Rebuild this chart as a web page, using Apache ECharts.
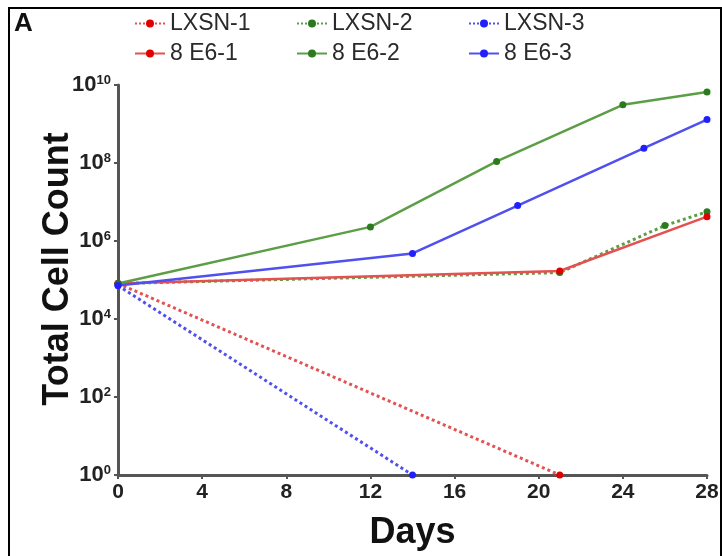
<!DOCTYPE html>
<html>
<head>
<meta charset="utf-8">
<script src="https://cdn.jsdelivr.net/npm/echarts@6/dist/echarts.min.js"></script>
<style>
  html, body { margin: 0; padding: 0; background: #fff; }
  #chart { width: 722px; height: 556px; }
</style>
</head>
<body>
<div id="chart"></div>
<script>
// days / total cell count
const lxsn1 = [[0, 8.1e4], [21, 1]];
const lxsn2 = [[0, 8.1e4], [21, 1.55e5], [26, 2.5e6], [28, 5.6e6]];
const lxsn3 = [[0, 7.2e4], [14, 1]];
const e6_1 = [[0, 8.1e4], [21, 1.7e5], [28, 4.2e6]];
const e6_2 = [[0, 8.1e4], [12, 2.3e6], [18, 1.1e8], [24, 3.1e9], [28, 6.6e9]];
const e6_3 = [[0, 7.2e4], [14, 4.8e5], [19, 8.1e6], [25, 2.4e8], [28, 1.3e9]];
const dayTicks = [0, 4, 8, 12, 16, 20, 24, 28];

const RED = "#e55050", RED_DOT = "#e00000";
const GREEN = "#5c9e46", GREEN_DOT = "#2b7a1c";
const BLUE = "#5050f0", BLUE_DOT = "#2020ff";

const myChart = echarts.init(document.getElementById("chart"));

function makeSeries(name, data, color, dotColor, dotted) {
  return {
    name: name,
    type: "line",
    data: data,
    symbol: "circle",
    symbolSize: 7,
    showSymbol: true,
    itemStyle: { color: dotColor },
    lineStyle: { color: color, width: dotted ? 3 : 2.5, type: dotted ? "dotted" : "solid" },
    z: dotted ? 2 : 3,
    animation: false,
  };
}

function legendAt(name, left, top) {
  return {
    data: [name],
    left: left,
    top: top,
    itemWidth: 30,
    itemHeight: 10,
    selectedMode: false,
    textStyle: { fontFamily: "Liberation Sans", fontSize: 23, color: "#2a2a2a" },
  };
}

const option = {
  backgroundColor: "#fff",
  legend: [
    legendAt("LXSN-1", 129, 7),
    legendAt("LXSN-2", 291, 7),
    legendAt("LXSN-3", 463, 7),
    legendAt("8 E6-1", 129, 37),
    legendAt("8 E6-2", 291, 37),
    legendAt("8 E6-3", 463, 37),
  ],
  graphic: [
    {
      type: "rect",
      shape: { x: 9, y: 8, width: 712, height: 560 },
      style: { fill: "none", stroke: "#000", lineWidth: 2 },
    },
    {
      type: "text",
      left: 14,
      top: 11,
      style: { text: "A", font: "bold 26px Liberation Sans", fill: "#111" },
    },
  ],
  grid: { left: 118, right: 15, top: 85, bottom: 80 },
  xAxis: {
    type: "value",
    min: 0,
    max: 28,
    interval: 4,
    name: "Days",
    nameLocation: "middle",
    nameGap: 40,
    nameMoveOverlap: false,
    nameTextStyle: { fontFamily: "Liberation Sans", fontSize: 36, fontWeight: "bold", color: "#111" },
    axisLine: { lineStyle: { color: "#555", width: 3 } },
    axisTick: { length: 4, lineStyle: { color: "#555", width: 2 } },
    axisLabel: {
      fontFamily: "Liberation Sans",
      fontSize: 21,
      fontWeight: "bold",
      color: "#222",
      margin: 7,
      customValues: dayTicks,
    },
    splitLine: { show: false },
  },
  yAxis: {
    type: "log",
    logBase: 10,
    min: 1,
    max: 1e10,
    interval: 2,
    name: "Total Cell Count",
    nameLocation: "middle",
    nameGap: 42,
    nameMoveOverlap: false,
    nameTextStyle: {
      fontFamily: "Liberation Sans",
      fontSize: 36,
      fontWeight: "bold",
      color: "#111",
      padding: [0, 0, 0, 22],
    },
    axisLine: { show: true, lineStyle: { color: "#555", width: 3 } },
    axisTick: { show: true, length: 4, lineStyle: { color: "#555", width: 2 } },
    axisLabel: {
      margin: 7,
      formatter: (value) => {
        const p = Math.round(Math.log10(value));
        return "{b|10}{s|" + p + "}";
      },
      rich: {
        b: { fontFamily: "Liberation Sans", fontSize: 22, fontWeight: "bold", color: "#222" },
        s: { fontFamily: "Liberation Sans", fontSize: 13, fontWeight: "bold", color: "#222", verticalAlign: "top", padding: [0, 0, 10, 0] },
      },
    },
    splitLine: { show: false },
  },
  series: [
    makeSeries("LXSN-1", lxsn1, RED, RED_DOT, true),
    makeSeries("LXSN-2", lxsn2, GREEN, GREEN_DOT, true),
    makeSeries("LXSN-3", lxsn3, BLUE, BLUE_DOT, true),
    makeSeries("8 E6-1", e6_1, RED, RED_DOT, false),
    makeSeries("8 E6-2", e6_2, GREEN, GREEN_DOT, false),
    makeSeries("8 E6-3", e6_3, BLUE, BLUE_DOT, false),
  ],
};

myChart.setOption(option);
</script>
</body>
</html>
